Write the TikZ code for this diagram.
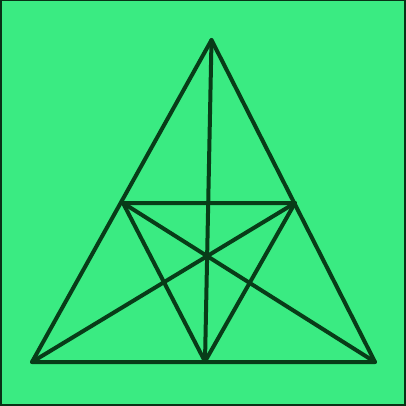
\documentclass[tikz,border=0pt]{standalone}
\definecolor{bg}{RGB}{58,235,130}
\definecolor{ln}{RGB}{8,60,24}
\definecolor{fr}{RGB}{8,50,22}
\begin{document}
\begin{tikzpicture}[x=1pt,y=-1pt,
  seg/.style={draw=ln,line width=4pt,line cap=round,line join=round}]
\useasboundingbox (0,0) rectangle (406,406);
\fill[bg] (0,0) rectangle (406,406);
\draw[fr,line width=2pt] (1,0.5) rectangle (405,405);
\coordinate (A) at (211.5,40);
\coordinate (B) at (32,362);
\coordinate (C) at (375,362);
\coordinate (MAB) at (123,203);
\coordinate (MAC) at (295,203);
\coordinate (MBC) at (205,361.5);
\draw[seg] (A) -- (B) -- (C) -- cycle;
\draw[seg] (MAB) -- (MAC) -- (MBC) -- cycle;
\draw[seg] (A) -- (MBC);
\draw[seg] (B) -- (MAC);
\draw[seg] (C) -- (MAB);
\end{tikzpicture}
\end{document}
